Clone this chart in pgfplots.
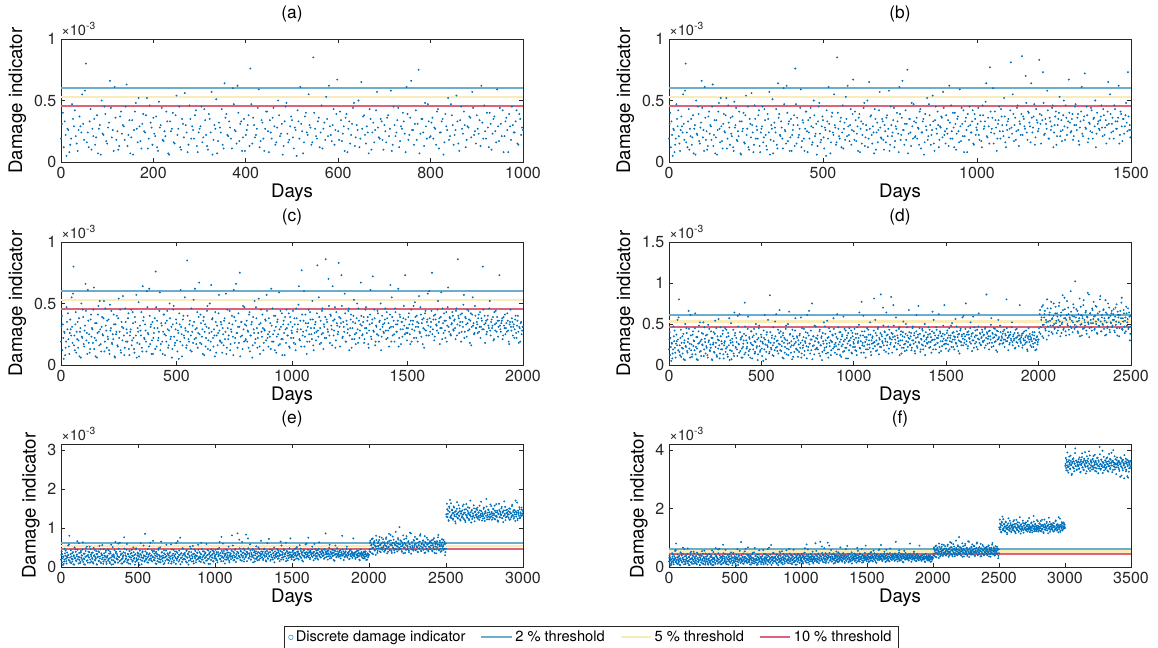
\documentclass[border=0pt]{standalone}
\usepackage{fontspec}
\setmainfont{TeX Gyre Heros}
\usepackage{pgfplots}
\usepackage{pgfplotstable}
\pgfplotsset{compat=1.18}

\definecolor{dots}{RGB}{0,114,189}
\definecolor{thrA}{RGB}{110,172,204}
\definecolor{thrB}{RGB}{250,236,185}
\definecolor{thrC}{RGB}{220,100,122}
\definecolor{axgray}{RGB}{38,38,38}

% damage indicator (x 1e-3), days 2, 6, 10, ...
\pgfplotstableread[row sep=\\]{
x y\\
2 .31\\6 .12\\10 .22\\14 .27\\18 .08\\22 .19\\26 .35\\30 .42\\34 .15\\38 .26\\42 .29\\46 .55\\50 .18\\54 .80\\58 .24\\62 .33\\66 .10\\70 .21\\74 .14\\78 .38\\82 .27\\86 .06\\90 .23\\94 .45\\98 .17\\
102 .28\\106 .66\\110 .20\\114 .09\\118 .36\\122 .25\\126 .13\\130 .41\\134 .30\\138 .18\\142 .63\\146 .22\\150 .07\\154 .34\\158 .26\\162 .48\\166 .16\\170 .29\\174 .11\\178 .39\\182 .24\\186 .52\\190 .19\\194 .32\\198 .14\\
202 .23\\206 .37\\210 .09\\214 .28\\218 .44\\222 .17\\226 .21\\230 .33\\234 .06\\238 .25\\242 .40\\246 .15\\250 .54\\254 .27\\258 .12\\262 .35\\266 .20\\270 .30\\274 .08\\278 .46\\282 .19\\286 .26\\290 .38\\294 .13\\298 .24\\
302 .29\\306 .16\\310 .43\\314 .22\\318 .10\\322 .35\\326 .57\\330 .18\\334 .27\\338 .07\\342 .32\\346 .24\\350 .14\\354 .64\\358 .39\\362 .21\\366 .28\\370 .11\\374 .47\\378 .25\\382 .62\\386 .17\\390 .33\\394 .20\\398 .09\\
402 .26\\406 .38\\410 .76\\414 .15\\418 .30\\422 .22\\426 .44\\430 .12\\434 .34\\438 .19\\442 .27\\446 .41\\450 .08\\454 .24\\458 .36\\462 .29\\466 .16\\470 .50\\474 .21\\478 .31\\482 .13\\486 .45\\490 .23\\494 .18\\498 .37\\
502 .20\\506 .28\\510 .05\\514 .33\\518 .61\\522 .25\\526 .16\\530 .40\\534 .22\\538 .30\\542 .14\\546 .85\\550 .27\\554 .19\\558 .36\\562 .24\\566 .11\\570 .32\\574 .53\\578 .21\\582 .29\\586 .17\\590 .43\\594 .26\\598 .67\\
602 .18\\606 .34\\610 .23\\614 .09\\618 .39\\622 .27\\626 .15\\630 .31\\634 .48\\638 .20\\642 .26\\646 .12\\650 .65\\654 .37\\658 .22\\662 .29\\666 .07\\670 .35\\674 .24\\678 .16\\682 .42\\686 .28\\690 .19\\694 .33\\698 .10\\
702 .25\\706 .36\\710 .21\\714 .58\\718 .14\\722 .30\\726 .24\\730 .44\\734 .17\\738 .27\\742 .33\\746 .08\\750 .39\\754 .22\\758 .66\\762 .26\\766 .31\\770 .18\\774 .75\\778 .23\\782 .35\\786 .13\\790 .29\\794 .47\\798 .20\\
802 .32\\806 .19\\810 .27\\814 .41\\818 .11\\822 .24\\826 .35\\830 .16\\834 .29\\838 .52\\842 .21\\846 .38\\850 .14\\854 .26\\858 .33\\862 .09\\866 .45\\870 .23\\874 .30\\878 .18\\882 .28\\886 .36\\890 .57\\894 .22\\898 .15\\
902 .27\\906 .34\\910 .62\\914 .19\\918 .25\\922 .40\\926 .12\\930 .31\\934 .23\\938 .37\\942 .16\\946 .29\\950 .44\\954 .21\\958 .08\\962 .33\\966 .26\\970 .39\\974 .18\\978 .30\\982 .24\\986 .42\\990 .14\\994 .35\\998 .28\\
1002 .31\\1006 .22\\1010 .38\\1014 .17\\1018 .46\\1022 .27\\1026 .33\\1030 .64\\1034 .20\\1038 .29\\1042 .77\\1046 .24\\1050 .36\\1054 .15\\1058 .41\\1062 .28\\1066 .19\\1070 .34\\1074 .25\\1078 .43\\1082 .30\\1086 .21\\1090 .37\\1094 .12\\1098 .26\\
1102 .35\\1106 .27\\1110 .81\\1114 .23\\1118 .39\\1122 .30\\1126 .18\\1130 .44\\1134 .26\\1138 .33\\1142 .22\\1146 .86\\1150 .37\\1154 .29\\1158 .70\\1162 .24\\1166 .41\\1170 .32\\1174 .16\\1178 .36\\1182 .28\\1186 .47\\1190 .20\\1194 .34\\1198 .25\\
1202 .83\\1206 .31\\1210 .38\\1214 .73\\1218 .22\\1222 .35\\1226 .27\\1230 .42\\1234 .19\\1238 .33\\1242 .29\\1246 .46\\1250 .24\\1254 .37\\1258 .14\\1262 .30\\1266 .40\\1270 .21\\1274 .34\\1278 .26\\1282 .50\\1286 .18\\1290 .36\\1294 .28\\1298 .67\\
1302 .32\\1306 .25\\1310 .39\\1314 .21\\1318 .45\\1322 .30\\1326 .36\\1330 .17\\1334 .28\\1338 .41\\1342 .23\\1346 .34\\1350 .72\\1354 .27\\1358 .38\\1362 .19\\1366 .31\\1370 .44\\1374 .24\\1378 .35\\1382 .29\\1386 .12\\1390 .40\\1394 .33\\1398 .26\\
1402 .37\\1406 .28\\1410 .43\\1414 .22\\1418 .34\\1422 .30\\1426 .65\\1430 .19\\1434 .39\\1438 .31\\1442 .25\\1446 .46\\1450 .33\\1454 .27\\1458 .36\\1462 .15\\1466 .41\\1470 .29\\1474 .35\\1478 .23\\1482 .38\\1486 .32\\1490 .73\\1494 .26\\1498 .20\\
1502 .30\\1506 .42\\1510 .25\\1514 .36\\1518 .19\\1522 .33\\1526 .48\\1530 .28\\1534 .39\\1538 .22\\1542 .35\\1546 .31\\1550 .56\\1554 .26\\1558 .41\\1562 .34\\1566 .17\\1570 .38\\1574 .29\\1578 .44\\1582 .24\\1586 .37\\1590 .32\\1594 .60\\1598 .27\\
1602 .35\\1606 .75\\1610 .29\\1614 .40\\1618 .23\\1622 .37\\1626 .32\\1630 .45\\1634 .26\\1638 .38\\1642 .30\\1646 .59\\1650 .21\\1654 .34\\1658 .42\\1662 .28\\1666 .36\\1670 .19\\1674 .47\\1678 .31\\1682 .39\\1686 .25\\1690 .33\\1694 .43\\1698 .29\\
1702 .36\\1706 .30\\1710 .44\\1714 .24\\1718 .86\\1722 .38\\1726 .32\\1730 .41\\1734 .27\\1738 .35\\1742 .49\\1746 .22\\1750 .39\\1754 .33\\1758 .45\\1762 .28\\1766 .37\\1770 .18\\1774 .42\\1778 .31\\1782 .55\\1786 .34\\1790 .26\\1794 .40\\1798 .30\\
1802 .33\\1806 .38\\1810 .27\\1814 .43\\1818 .31\\1822 .36\\1826 .80\\1830 .29\\1834 .40\\1838 .34\\1842 .25\\1846 .37\\1850 .32\\1854 .46\\1858 .28\\1862 .35\\1866 .30\\1870 .39\\1874 .21\\1878 .33\\1882 .44\\1886 .27\\1890 .36\\1894 .31\\1898 .73\\
1902 .29\\1906 .34\\1910 .38\\1914 .24\\1918 .32\\1922 .41\\1926 .30\\1930 .27\\1934 .36\\1938 .19\\1942 .33\\1946 .45\\1950 .28\\1954 .35\\1958 .31\\1962 .22\\1966 .37\\1970 .26\\1974 .32\\1978 .40\\1982 .18\\1986 .30\\1990 .34\\1994 .25\\1998 .31\\
2002 .45\\2006 .62\\2010 .38\\2014 .55\\2018 .71\\2022 .49\\2026 .33\\2030 .58\\2034 .66\\2038 .42\\2042 .52\\2046 .80\\2050 .47\\2054 .36\\2058 .61\\2062 .54\\2066 .69\\2070 .40\\2074 .57\\2078 .48\\2082 .75\\2086 .44\\2090 .63\\2094 .51\\2098 .39\\
2102 .59\\2106 .46\\2110 .72\\2114 .53\\2118 .35\\2122 .64\\2126 .50\\2130 .85\\2134 .43\\2138 .57\\2142 .68\\2146 .41\\2150 .55\\2154 .78\\2158 .48\\2162 .62\\2166 .37\\2170 .56\\2174 .90\\2178 .45\\2182 .60\\2186 .52\\2190 .70\\2194 .44\\2198 1.02\\
2202 .58\\2206 .47\\2210 .66\\2214 .39\\2218 .54\\2222 .81\\2226 .49\\2230 .61\\2234 .36\\2238 .57\\2242 .73\\2246 .45\\2250 .52\\2254 .64\\2258 .42\\2262 .59\\2266 .88\\2270 .50\\2274 .34\\2278 .63\\2282 .55\\2286 .46\\2290 .69\\2294 .51\\2298 .77\\
2302 .43\\2306 .60\\2310 .53\\2314 .71\\2318 .38\\2322 .56\\2326 .48\\2330 .65\\2334 .84\\2338 .41\\2342 .58\\2346 .50\\2350 .67\\2354 .44\\2358 .54\\2362 .79\\2366 .37\\2370 .62\\2374 .47\\2378 .57\\2382 .70\\2386 .40\\2390 .52\\2394 .63\\2398 .46\\
2402 .55\\2406 .68\\2410 .42\\2414 .59\\2418 .49\\2422 .74\\2426 .36\\2430 .61\\2434 .52\\2438 .45\\2442 .66\\2446 .57\\2450 .82\\2454 .43\\2458 .53\\2462 .63\\2466 .39\\2470 .58\\2474 .71\\2478 .48\\2482 .56\\2486 .44\\2490 .64\\2494 .30\\2498 .60\\
2502 1.35\\2506 1.62\\2510 1.28\\2514 1.44\\2518 1.18\\2522 1.51\\2526 1.72\\2530 1.30\\2534 1.25\\2538 1.47\\2542 1.38\\2546 1.21\\2550 1.55\\2554 1.33\\2558 1.41\\2562 1.12\\2566 1.29\\2570 1.49\\2574 1.36\\2578 1.24\\2582 1.58\\2586 1.31\\2590 1.43\\2594 1.19\\2598 1.37\\
2602 1.27\\2606 1.45\\2610 1.34\\2614 1.60\\2618 1.22\\2622 1.39\\2626 1.15\\2630 1.48\\2634 1.32\\2638 1.26\\2642 1.53\\2646 1.40\\2650 1.20\\2654 1.35\\2658 1.70\\2662 1.29\\2666 1.44\\2670 1.23\\2674 1.37\\2678 1.31\\2682 1.50\\2686 1.17\\2690 1.42\\2694 1.33\\2698 1.28\\
2702 1.46\\2706 1.24\\2710 1.39\\2714 1.31\\2718 1.57\\2722 1.27\\2726 1.36\\2730 1.43\\2734 1.19\\2738 1.34\\2742 1.30\\2746 1.52\\2750 1.25\\2754 1.41\\2758 1.38\\2762 1.74\\2766 1.22\\2770 1.33\\2774 1.47\\2778 1.29\\2782 1.40\\2786 1.26\\2790 1.35\\2794 1.56\\2798 1.21\\
2802 1.32\\2806 1.49\\2810 1.37\\2814 1.23\\2818 1.44\\2822 1.30\\2826 1.61\\2830 1.28\\2834 1.40\\2838 1.16\\2842 1.35\\2846 1.46\\2850 1.27\\2854 1.38\\2858 1.33\\2862 1.54\\2866 1.25\\2870 1.42\\2874 1.31\\2878 1.68\\2882 1.36\\2886 1.20\\2890 1.45\\2894 1.29\\2898 1.39\\
2902 1.34\\2906 1.26\\2910 1.50\\2914 1.41\\2918 1.22\\2922 1.37\\2926 1.30\\2930 1.59\\2934 1.33\\2938 1.45\\2942 1.28\\2946 1.39\\2950 1.18\\2954 1.43\\2958 1.35\\2962 1.65\\2966 1.24\\2970 1.40\\2974 1.31\\2978 1.48\\2982 1.27\\2986 1.36\\2990 1.52\\2994 1.32\\2998 1.44\\
3002 3.45\\3006 3.72\\3010 3.30\\3014 3.58\\3018 3.91\\3022 3.41\\3026 3.22\\3030 3.65\\3034 3.50\\3038 3.36\\3042 3.80\\3046 3.47\\3050 3.14\\3054 3.55\\3058 3.68\\3062 3.39\\3066 3.61\\3070 3.27\\3074 3.52\\3078 4.05\\3082 3.44\\3086 3.63\\3090 3.33\\3094 3.57\\3098 3.48\\
3102 3.60\\3106 3.35\\3110 3.74\\3114 3.49\\3118 3.25\\3122 3.66\\3126 3.53\\3130 3.88\\3134 3.40\\3138 3.57\\3142 3.31\\3146 3.70\\3150 3.46\\3154 3.62\\3158 3.19\\3162 3.54\\3166 3.78\\3170 3.43\\3174 3.59\\3178 3.37\\3182 3.95\\3186 3.51\\3190 3.28\\3194 3.64\\3198 3.47\\
3202 3.56\\3206 3.42\\3210 3.69\\3214 3.34\\3218 3.61\\3222 3.48\\3226 3.83\\3230 3.39\\3234 3.58\\3238 3.26\\3242 3.52\\3246 3.73\\3250 3.45\\3254 3.64\\3258 3.36\\3262 4.10\\3266 3.50\\3270 3.32\\3274 3.67\\3278 3.44\\3282 3.59\\3286 3.21\\3290 3.55\\3294 3.76\\3298 3.41\\
3302 3.49\\3306 3.63\\3310 3.38\\3314 3.71\\3318 3.52\\3322 3.29\\3326 3.60\\3330 3.45\\3334 3.86\\3338 3.54\\3342 3.35\\3346 3.66\\3350 3.47\\3354 3.58\\3358 3.24\\3362 3.62\\3366 3.99\\3370 3.43\\3374 3.55\\3378 3.33\\3382 3.68\\3386 3.50\\3390 3.40\\3394 3.74\\3398 3.57\\
3402 3.46\\3406 3.61\\3410 3.34\\3414 3.57\\3418 3.08\\3422 3.52\\3426 3.70\\3430 3.41\\3434 3.63\\3438 3.30\\3442 3.55\\3446 3.48\\3450 3.82\\3454 3.39\\3458 3.60\\3462 3.27\\3466 3.53\\3470 3.66\\3474 3.44\\3478 3.05\\3482 3.58\\3486 3.37\\3490 3.49\\3494 3.62\\3498 3.43\\
}\damage

% damage indicator (x 1e-3), days 0, 4, 8, ...
\pgfplotstableread[row sep=\\]{
x y\\
0 .19\\4 .40\\8 .33\\12 .05\\16 .26\\20 .14\\24 .47\\28 .29\\32 .21\\36 .09\\40 .37\\44 .24\\48 .31\\52 .58\\56 .16\\60 .12\\64 .43\\68 .27\\72 .35\\76 .20\\80 .07\\84 .30\\88 .50\\92 .22\\96 .39\\
100 .15\\104 .32\\108 .44\\112 .26\\116 .61\\120 .18\\124 .10\\128 .37\\132 .23\\136 .29\\140 .45\\144 .13\\148 .34\\152 .20\\156 .06\\160 .41\\164 .27\\168 .52\\172 .17\\176 .31\\180 .25\\184 .38\\188 .11\\192 .46\\196 .28\\
200 .36\\204 .21\\208 .12\\212 .49\\216 .30\\220 .18\\224 .25\\228 .41\\232 .07\\236 .33\\240 .27\\244 .16\\248 .38\\252 .22\\256 .45\\260 .10\\264 .31\\268 .56\\272 .24\\276 .14\\280 .35\\284 .29\\288 .19\\292 .42\\296 .08\\
300 .27\\304 .45\\308 .20\\312 .34\\316 .13\\320 .39\\324 .24\\328 .06\\332 .30\\336 .51\\340 .17\\344 .28\\348 .43\\352 .11\\356 .36\\360 .22\\364 .33\\368 .19\\372 .60\\376 .26\\380 .15\\384 .40\\388 .31\\392 .09\\396 .35\\
400 .22\\404 .30\\408 .13\\412 .47\\416 .36\\420 .20\\424 .27\\428 .59\\432 .17\\436 .32\\440 .09\\444 .41\\448 .25\\452 .34\\456 .19\\460 .44\\464 .14\\468 .28\\472 .38\\476 .23\\480 .06\\484 .33\\488 .48\\492 .16\\496 .29\\
500 .34\\504 .11\\508 .26\\512 .42\\516 .19\\520 .31\\524 .07\\528 .37\\532 .24\\536 .55\\540 .28\\544 .16\\548 .40\\552 .21\\556 .33\\560 .12\\564 .46\\568 .27\\572 .18\\576 .35\\580 .62\\584 .22\\588 .30\\592 .14\\596 .39\\
600 .25\\604 .41\\608 .17\\612 .29\\616 .36\\620 .08\\624 .33\\628 .22\\632 .44\\636 .13\\640 .30\\644 .50\\648 .19\\652 .27\\656 .38\\660 .15\\664 .24\\668 .43\\672 .10\\676 .32\\680 .26\\684 .57\\688 .20\\692 .35\\696 .18\\
700 .30\\704 .16\\708 .38\\712 .27\\716 .09\\720 .45\\724 .21\\728 .34\\732 .12\\736 .29\\740 .40\\744 .23\\748 .61\\752 .18\\756 .36\\760 .26\\764 .14\\768 .42\\772 .31\\776 .07\\780 .35\\784 .24\\788 .48\\792 .19\\796 .33\\
800 .21\\804 .36\\808 .28\\812 .14\\816 .43\\820 .24\\824 .33\\828 .06\\832 .39\\836 .26\\840 .18\\844 .47\\848 .30\\852 .22\\856 .54\\860 .15\\864 .34\\868 .27\\872 .41\\876 .12\\880 .29\\884 .37\\888 .20\\892 .44\\896 .25\\
900 .38\\904 .23\\908 .13\\912 .32\\916 .46\\920 .19\\924 .28\\928 .40\\932 .10\\936 .35\\940 .25\\944 .59\\948 .17\\952 .31\\956 .42\\960 .21\\964 .36\\968 .08\\972 .29\\976 .45\\980 .24\\984 .33\\988 .15\\992 .39\\996 .22\\
1000 .26\\1004 .44\\1008 .18\\1012 .33\\1016 .12\\1020 .38\\1024 .29\\1028 .49\\1032 .21\\1036 .36\\1040 .15\\1044 .41\\1048 .27\\1052 .60\\1056 .23\\1060 .34\\1064 .09\\1068 .31\\1072 .45\\1076 .19\\1080 .37\\1084 .25\\1088 .52\\1092 .16\\1096 .30\\
1100 .33\\1104 .20\\1108 .42\\1112 .28\\1116 .55\\1120 .17\\1124 .36\\1128 .25\\1132 .46\\1136 .13\\1140 .31\\1144 .39\\1148 .22\\1152 .35\\1156 .27\\1160 .48\\1164 .18\\1168 .40\\1172 .29\\1176 .64\\1180 .24\\1184 .37\\1188 .14\\1192 .43\\1196 .32\\
1200 .27\\1204 .39\\1208 .15\\1212 .34\\1216 .48\\1220 .23\\1224 .31\\1228 .58\\1232 .19\\1236 .36\\1240 .26\\1244 .44\\1248 .12\\1252 .30\\1256 .41\\1260 .21\\1264 .35\\1268 .53\\1272 .25\\1276 .17\\1280 .38\\1284 .29\\1288 .46\\1292 .22\\1296 .33\\
1300 .40\\1304 .24\\1308 .35\\1312 .18\\1316 .30\\1320 .47\\1324 .26\\1328 .39\\1332 .14\\1336 .33\\1340 .61\\1344 .21\\1348 .37\\1352 .28\\1356 .45\\1360 .16\\1364 .32\\1368 .25\\1372 .42\\1376 .19\\1380 .36\\1384 .50\\1388 .23\\1392 .31\\1396 .27\\
1400 .34\\1404 .46\\1408 .21\\1412 .38\\1416 .28\\1420 .15\\1424 .41\\1428 .31\\1432 .55\\1436 .24\\1440 .36\\1444 .19\\1448 .43\\1452 .27\\1456 .33\\1460 .62\\1464 .22\\1468 .39\\1472 .17\\1476 .35\\1480 .29\\1484 .48\\1488 .25\\1492 .37\\1496 .30\\
1500 .26\\1504 .39\\1508 .33\\1512 .17\\1516 .45\\1520 .29\\1524 .36\\1528 .22\\1532 .51\\1536 .31\\1540 .40\\1544 .19\\1548 .34\\1552 .27\\1556 .47\\1560 .23\\1564 .37\\1568 .30\\1572 .14\\1576 .42\\1580 .28\\1584 .35\\1588 .58\\1592 .24\\1596 .38\\
1600 .31\\1604 .44\\1608 .25\\1612 .37\\1616 .20\\1620 .41\\1624 .33\\1628 .28\\1632 .52\\1636 .35\\1640 .17\\1644 .39\\1648 .30\\1652 .46\\1656 .26\\1660 .36\\1664 .22\\1668 .43\\1672 .32\\1676 .63\\1680 .27\\1684 .38\\1688 .24\\1692 .34\\1696 .40\\
1700 .28\\1704 .37\\1708 .21\\1712 .46\\1716 .33\\1720 .40\\1724 .26\\1728 .35\\1732 .19\\1736 .42\\1740 .31\\1744 .57\\1748 .27\\1752 .38\\1756 .23\\1760 .34\\1764 .44\\1768 .29\\1772 .36\\1776 .16\\1780 .41\\1784 .32\\1788 .25\\1792 .48\\1796 .30\\
1800 .35\\1804 .26\\1808 .41\\1812 .31\\1816 .22\\1820 .38\\1824 .29\\1828 .45\\1832 .33\\1836 .18\\1840 .36\\1844 .27\\1848 .40\\1852 .30\\1856 .52\\1860 .24\\1864 .37\\1868 .32\\1872 .20\\1876 .43\\1880 .28\\1884 .34\\1888 .39\\1892 .23\\1896 .36\\
1900 .32\\1904 .27\\1908 .36\\1912 .21\\1916 .39\\1920 .30\\1924 .25\\1928 .34\\1932 .42\\1936 .28\\1940 .17\\1944 .35\\1948 .31\\1952 .38\\1956 .24\\1960 .33\\1964 .29\\1968 .40\\1972 .22\\1976 .36\\1980 .27\\1984 .31\\1988 .19\\1992 .35\\1996 .28\\
2000 .31\\2004 .40\\2008 .67\\2012 .46\\2016 .58\\2020 .35\\2024 .73\\2028 .49\\2032 .62\\2036 .44\\2040 .55\\2044 .31\\2048 .69\\2052 .53\\2056 .41\\2060 .64\\2064 .48\\2068 .77\\2072 .56\\2076 .38\\2080 .60\\2084 .50\\2088 .45\\2092 .71\\2096 .54\\
2100 .63\\2104 .42\\2108 .55\\2112 .76\\2116 .48\\2120 .60\\2124 .39\\2128 .52\\2132 .67\\2136 .45\\2140 .82\\2144 .57\\2148 .36\\2152 .61\\2156 .50\\2160 .70\\2164 .43\\2168 .58\\2172 .47\\2176 .65\\2180 .54\\2184 .40\\2188 .74\\2192 .59\\2196 .49\\
2200 .46\\2204 .68\\2208 .53\\2212 .41\\2216 .62\\2220 .57\\2224 .35\\2228 .71\\2232 .50\\2236 .60\\2240 .44\\2244 .79\\2248 .55\\2252 .48\\2256 .66\\2260 .38\\2264 .58\\2268 .52\\2272 .86\\2276 .45\\2280 .63\\2284 .51\\2288 .42\\2292 .67\\2296 .56\\
2300 .59\\2304 .44\\2308 .72\\2312 .50\\2316 .39\\2320 .63\\2324 .55\\2328 .47\\2332 .80\\2336 .53\\2340 .41\\2344 .61\\2348 .49\\2352 .68\\2356 .57\\2360 .36\\2364 .64\\2368 .52\\2372 .45\\2376 .75\\2380 .58\\2384 .43\\2388 .60\\2392 .51\\2396 .66\\
2400 .48\\2404 .62\\2408 .55\\2412 .40\\2416 .70\\2420 .53\\2424 .45\\2428 .65\\2432 .58\\2436 .35\\2440 .61\\2444 .50\\2448 .76\\2452 .44\\2456 .57\\2460 .67\\2464 .47\\2468 .54\\2472 .41\\2476 .63\\2480 .52\\2484 .69\\2488 .46\\2492 .59\\2496 .38\\
2500 .47\\2504 1.29\\2508 1.48\\2512 1.36\\2516 1.20\\2520 1.55\\2524 1.41\\2528 1.27\\2532 1.63\\2536 1.33\\2540 1.45\\2544 1.24\\2548 1.38\\2552 1.52\\2556 1.30\\2560 1.17\\2564 1.43\\2568 1.35\\2572 1.66\\2576 1.26\\2580 1.40\\2584 1.32\\2588 1.50\\2592 1.22\\2596 1.37\\
2600 1.42\\2604 1.30\\2608 1.56\\2612 1.25\\2616 1.38\\2620 1.47\\2624 1.19\\2628 1.34\\2632 1.61\\2636 1.28\\2640 1.44\\2644 1.36\\2648 1.23\\2652 1.51\\2656 1.32\\2660 1.40\\2664 1.14\\2668 1.46\\2672 1.29\\2676 1.37\\2680 1.58\\2684 1.26\\2688 1.41\\2692 1.33\\2696 1.49\\
2700 1.35\\2704 1.52\\2708 1.28\\2712 1.40\\2716 1.21\\2720 1.45\\2724 1.33\\2728 1.67\\2732 1.30\\2736 1.38\\2740 1.24\\2744 1.49\\2748 1.36\\2752 1.18\\2756 1.43\\2760 1.31\\2764 1.55\\2768 1.27\\2772 1.39\\2776 1.46\\2780 1.22\\2784 1.34\\2788 1.60\\2792 1.29\\2796 1.41\\
2800 1.37\\2804 1.26\\2808 1.48\\2812 1.33\\2816 1.57\\2820 1.22\\2824 1.40\\2828 1.31\\2832 1.44\\2836 1.19\\2840 1.36\\2844 1.62\\2848 1.28\\2852 1.42\\2856 1.34\\2860 1.50\\2864 1.25\\2868 1.39\\2872 1.15\\2876 1.45\\2880 1.32\\2884 1.54\\2888 1.27\\2892 1.38\\2896 1.47\\
2900 1.30\\2904 1.43\\2908 1.35\\2912 1.21\\2916 1.49\\2920 1.38\\2924 1.27\\2928 1.56\\2932 1.32\\2936 1.41\\2940 1.24\\2944 1.46\\2948 1.34\\2952 1.70\\2956 1.29\\2960 1.39\\2964 1.20\\2968 1.44\\2972 1.36\\2976 1.53\\2980 1.25\\2984 1.40\\2988 1.31\\2992 1.47\\2996 1.37\\
3000 1.33\\3004 3.52\\3008 3.38\\3012 3.66\\3016 3.47\\3020 3.29\\3024 3.60\\3028 3.43\\3032 3.77\\3036 3.55\\3040 3.34\\3044 3.62\\3048 3.49\\3052 3.18\\3056 3.58\\3060 3.41\\3064 3.71\\3068 3.36\\3072 3.54\\3076 3.89\\3080 3.45\\3084 3.63\\3088 3.31\\3092 3.57\\3096 3.50\\
3100 3.44\\3104 3.68\\3108 3.37\\3112 3.56\\3116 3.23\\3120 3.61\\3124 3.48\\3128 3.75\\3132 3.40\\3136 3.59\\3140 3.32\\3144 3.65\\3148 3.51\\3152 3.92\\3156 3.42\\3160 3.57\\3164 3.27\\3168 3.64\\3172 3.46\\3176 3.70\\3180 3.35\\3184 3.53\\3188 3.81\\3192 3.39\\3196 3.60\\
3200 3.58\\3204 3.33\\3208 3.67\\3212 3.45\\3216 3.79\\3220 3.40\\3224 3.55\\3228 3.28\\3232 3.63\\3236 3.50\\3240 3.37\\3244 3.72\\3248 3.47\\3252 3.20\\3256 3.59\\3260 3.43\\3264 3.85\\3268 3.52\\3272 3.36\\3276 3.66\\3280 3.48\\3284 3.97\\3288 3.41\\3292 3.57\\3296 3.30\\
3300 3.47\\3304 3.64\\3308 3.35\\3312 3.58\\3316 3.42\\3320 3.74\\3324 3.51\\3328 3.26\\3332 3.61\\3336 3.44\\3340 3.69\\3344 3.38\\3348 3.55\\3352 3.90\\3356 3.46\\3360 3.62\\3364 3.32\\3368 3.57\\3372 3.49\\3376 3.78\\3380 3.40\\3384 3.53\\3388 3.17\\3392 3.65\\3396 3.50\\
3400 3.55\\3404 3.39\\3408 3.62\\3412 3.28\\3416 3.51\\3420 3.74\\3424 3.44\\3428 3.12\\3432 3.59\\3436 3.36\\3440 3.66\\3444 3.47\\3448 3.03\\3452 3.53\\3456 3.41\\3460 3.70\\3464 3.32\\3468 3.57\\3472 3.10\\3476 3.48\\3480 3.63\\3484 3.25\\3488 3.54\\3492 3.38\\3496 3.60\\
}\damageb

\pgfplotsset{
  panel/.style={
    scale only axis, width=346.5pt, height=92.25pt, anchor=south west,
    axis line style={axgray, line width=0.5pt},
    tick style={axgray, line width=0.5pt},
    major tick length=3pt,
    tick align=inside,
    xmin=0, ymin=0,
    scaled y ticks=false, scaled x ticks=false,
    /pgf/number format/assume math mode=true,
    /pgf/number format/1000 sep={},
    tick label style={font=\fontsize{12}{13}\selectfont, text=axgray},
    label style={font=\fontsize{14}{16}\selectfont},
    title style={font=\fontsize{13}{15}\selectfont, yshift=3pt},
    xlabel={Days}, ylabel={Damage indicator},
    xlabel style={yshift=3pt},
    ylabel style={yshift=-1pt},
    xtick distance=500,
  },
  scale label/.style={
    after end axis/.append code={
      \node[anchor=south west, inner sep=0pt, yshift=2.5pt, text=axgray,
        font=\fontsize{11}{12}\selectfont] at (rel axis cs:0,1) {×10\textsuperscript{-3}};
    }
  },
  dmg/.style={only marks, mark=*, mark size=0.5pt, color=dots,
    legend image post style={mark=o, mark size=1.7pt, color=dots!70}},
  t2/.style={thrA, line width=1.6pt, legend image code/.code={\draw[##1] (0cm,0cm) -- (0.8cm,0cm);}},
  t5/.style={thrB, line width=1.6pt, legend image code/.code={\draw[##1] (0cm,0cm) -- (0.8cm,0cm);}},
  t10/.style={thrC, line width=1.6pt, legend image code/.code={\draw[##1] (0cm,0cm) -- (0.8cm,0cm);}},
}

\begin{document}
\begin{tikzpicture}

% (a)
\begin{axis}[panel, scale label, at={(45.75pt,364.5pt)}, title={(a)},
  xmax=1000, xtick={0,200,...,1000}, ymax=1, ytick={0,0.5,1}]
\addplot[dmg] table[restrict x to domain=0:1000] {\damage};
\addplot[dmg] table[restrict x to domain=0:1000] {\damageb};
\addplot[t2] coordinates {(0,0.605) (1000,0.605)};
\addplot[t5] coordinates {(0,0.53) (1000,0.53)};
\addplot[t10] coordinates {(0,0.458) (1000,0.458)};
\end{axis}

% (b)
\begin{axis}[panel, scale label, at={(501.75pt,364.5pt)}, title={(b)},
  xmax=1500, ymax=1, ytick={0,0.5,1}]
\addplot[dmg] table[restrict x to domain=0:1500] {\damage};
\addplot[dmg] table[restrict x to domain=0:1500] {\damageb};
\addplot[t2] coordinates {(0,0.605) (1500,0.605)};
\addplot[t5] coordinates {(0,0.53) (1500,0.53)};
\addplot[t10] coordinates {(0,0.458) (1500,0.458)};
\end{axis}

% (c)
\begin{axis}[panel, scale label, at={(45.75pt,212.25pt)}, title={(c)},
  xmax=2000, ymax=1, ytick={0,0.5,1}]
\addplot[dmg] table[restrict x to domain=0:2000] {\damage};
\addplot[dmg] table[restrict x to domain=0:2000] {\damageb};
\addplot[t2] coordinates {(0,0.605) (2000,0.605)};
\addplot[t5] coordinates {(0,0.53) (2000,0.53)};
\addplot[t10] coordinates {(0,0.458) (2000,0.458)};
\end{axis}

% (d)
\begin{axis}[panel, scale label, at={(501.75pt,212.25pt)}, title={(d)},
  xmax=2500, ymax=1.5, ytick={0,0.5,1,1.5}]
\addplot[dmg] table[restrict x to domain=0:2500] {\damage};
\addplot[dmg] table[restrict x to domain=0:2500] {\damageb};
\addplot[t2] coordinates {(0,0.605) (2500,0.605)};
\addplot[t5] coordinates {(0,0.53) (2500,0.53)};
\addplot[t10] coordinates {(0,0.458) (2500,0.458)};
\end{axis}

% (e)
\begin{axis}[panel, scale label, at={(45.75pt,60.75pt)}, title={(e)},
  xmax=3000, ymax=3.15, ytick={0,1,2,3},
  legend columns=4,
  legend cell align=left,
  legend style={at={(1.148,-0.48)}, anchor=north, draw=axgray, line width=0.5pt,
    font=\fontsize{11}{12}\selectfont, inner xsep=3pt, inner ysep=1.5pt,
    /tikz/every even column/.append style={column sep=9pt}}]
\addplot[dmg] table[restrict x to domain=0:3000] {\damage};
\addplot[t2] coordinates {(0,0.605) (3000,0.605)};
\addplot[t5] coordinates {(0,0.53) (3000,0.53)};
\addplot[t10] coordinates {(0,0.458) (3000,0.458)};
\addplot[dmg, forget plot] table[restrict x to domain=0:3000] {\damageb};
\legend{Discrete damage indicator, 2 \% threshold, 5 \% threshold, 10 \% threshold}
\end{axis}

% (f)
\begin{axis}[panel, scale label, at={(501.75pt,60.75pt)}, title={(f)},
  xmax=3500, ymax=4.2, ytick={0,2,4}]
\addplot[dmg] table[restrict x to domain=0:3500] {\damage};
\addplot[dmg] table[restrict x to domain=0:3500] {\damageb};
\addplot[t2] coordinates {(0,0.605) (3500,0.605)};
\addplot[t5] coordinates {(0,0.53) (3500,0.53)};
\addplot[t10] coordinates {(0,0.458) (3500,0.458)};
\end{axis}

\pgfresetboundingbox
\useasboundingbox (0,0) rectangle (868.5pt,486pt);
\end{tikzpicture}
\end{document}
